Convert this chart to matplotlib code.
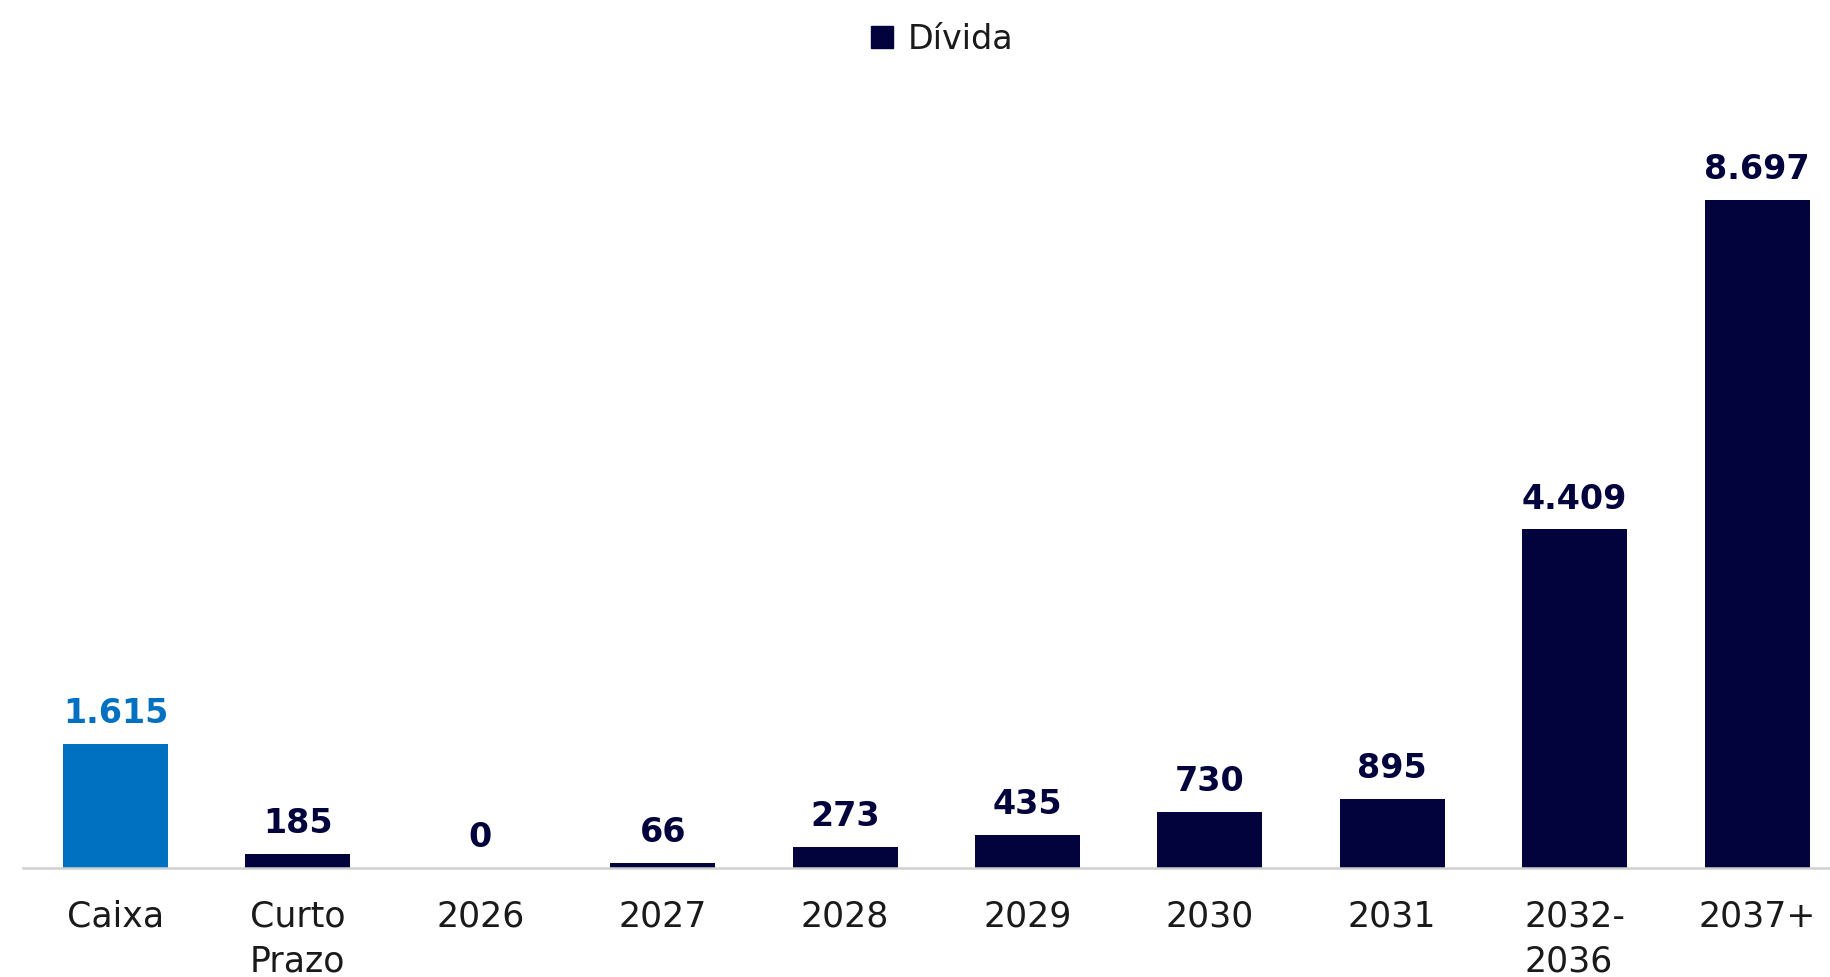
import matplotlib.pyplot as plt
from matplotlib.patches import Patch

categories = ["Caixa", "Curto\nPrazo", "2026", "2027", "2028", "2029",
              "2030", "2031", "2032-\n2036", "2037+"]
values = [1615, 185, 0, 66, 273, 435, 730, 895, 4409, 8697]
value_labels = ["1.615", "185", "0", "66", "273", "435", "730", "895", "4.409", "8.697"]

CASH_COLOR = "#0070C0"
DEBT_COLOR = "#02023C"
TEXT_COLOR = "#1A1A1A"

plt.rcParams['font.family'] = ['DejaVu Sans']

fig = plt.figure(figsize=(18.3, 9.77), dpi=100)
ax = fig.add_axes([23 / 1830, 1 - 868 / 977, 1 - 23 / 1830, 808 / 977])

colors = [CASH_COLOR] + [DEBT_COLOR] * (len(values) - 1)
x = list(range(len(values)))
ax.bar(x, values, width=0.576, color=colors, zorder=2)

# value on top of each bar
for xi, v, lab, c in zip(x, values, value_labels, colors):
    ax.annotate(lab, xy=(xi, v), xytext=(0, 15), textcoords="offset points",
                ha="center", va="baseline", fontsize=24, fontweight="bold",
                color=c)

ax.set_xlim(-0.507, 9.4)
ax.set_ylim(0, 10520)
ax.set_xticks(x)
ax.set_xticklabels(categories, fontsize=25, color=TEXT_COLOR,
                   linespacing=1.4, multialignment="left")
ax.tick_params(axis="x", length=0, pad=23)
ax.set_yticks([])

for side in ["top", "right", "left"]:
    ax.spines[side].set_visible(False)
ax.spines["bottom"].set_color("#D0D0D0")
ax.spines["bottom"].set_linewidth(1.8)

handle = Patch(facecolor=DEBT_COLOR, edgecolor=DEBT_COLOR)
fig.legend(handles=[handle], labels=["Dívida"], loc="center",
           bbox_to_anchor=(0.515, 0.96), frameon=False, fontsize=24,
           handlelength=0.65, handleheight=0.65, handletextpad=0.45,
           labelcolor=TEXT_COLOR)

fig.savefig("out.png", dpi=100, facecolor="white")
